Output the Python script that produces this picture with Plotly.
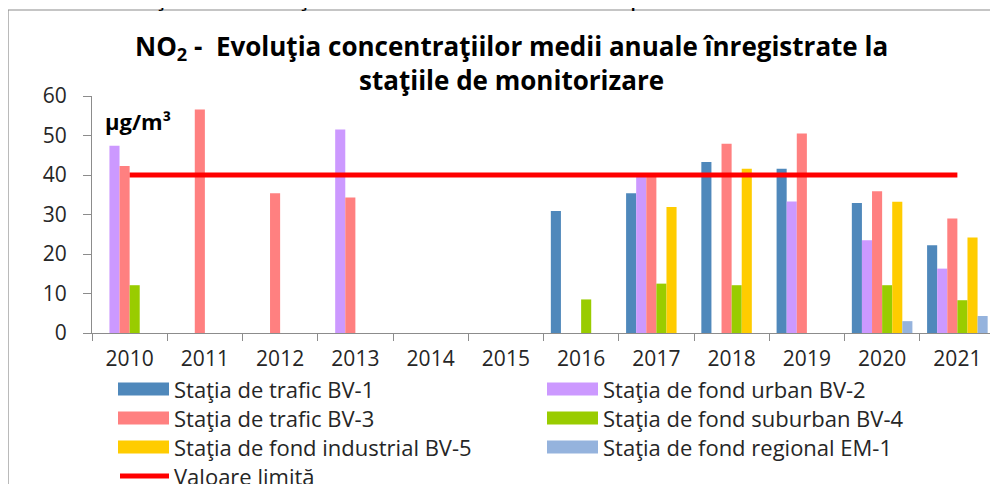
import plotly.graph_objects as go

# ---- data ----
years = ["2010", "2011", "2012", "2013", "2014", "2015",
         "2016", "2017", "2018", "2019", "2020", "2021"]
bv1 = [None, None, None, None, None, None, 30.9, 35.4, 43.3, 41.6, 32.9, 22.2]
bv2 = [47.4, None, None, 51.5, None, None, None, 39.5, None, 33.3, 23.5, 16.3]
bv3 = [42.3, 56.6, 35.4, 34.3, None, None, None, 39.8, 47.9, 50.5, 35.9, 29.0]
bv4 = [12.1, None, None, None, None, None, 8.5, 12.5, 12.1, None, 12.1, 8.3]
bv5 = [None, None, None, None, None, None, None, 31.9, 41.6, None, 33.2, 24.2]
em1 = [None, None, None, None, None, None, None, None, None, None, 3.0, 4.3]
limit = [40, 40, 40, 40, 40, 40, 40, 40, 40, 40, 40, 40]

series_names = ["Staţia de trafic BV-1", "Staţia de fond urban BV-2",
                "Staţia de trafic BV-3", "Staţia de fond suburban BV-4",
                "Staţia de fond industrial BV-5", "Staţia de fond regional EM-1"]
limit_name = "Valoare limită"
series_values = [bv1, bv2, bv3, bv4, bv5, em1]
colors = ["#4F88BB", "#CC99FF", "#FF8080", "#99CC00", "#FFCC00", "#95B3DD"]
limit_color = "#FF0000"

# ---- layout geometry (pixels; page body adds an 8px offset) ----
OFF = 8
W, H = 998 - OFF, 484 - OFF
L, R, T, B = 92 - OFF, 3, 96 - OFF, 151
PW, PH = W - L - R, H - T - B


def px(x):  # x in window pixels -> paper
    return (x - OFF - L) / PW


def py(y):  # y in window pixels -> paper
    return (H - B - (y - OFF)) / PH


FONT = "'Open Sans', Lato, sans-serif"
TXT = "#262626"

fig = go.Figure()
for name, vals, col in zip(series_names, series_values, colors):
    fig.add_trace(go.Bar(x=years, y=vals, name=name, marker_color=col,
                         marker_line_width=0, showlegend=False))
fig.add_trace(go.Scatter(x=years, y=limit, name=limit_name, mode="lines",
                         line=dict(color=limit_color, width=5), showlegend=False))

shapes = []
annotations = []

# outer frame
shapes.append(dict(type="rect", xref="paper", yref="paper",
                   x0=px(8), x1=px(1010), y0=py(500), y1=py(10),
                   line=dict(color="#8C8C8C", width=1.2), fillcolor="rgba(0,0,0,0)",
                   layer="below"))

# manual legend (two columns, row-wise)
col_x = [118, 547]
row_y = [389, 418, 447, 476]
for i, (name, col) in enumerate(zip(series_names, colors)):
    r, c = divmod(i, 2)
    x0 = col_x[c]
    yc = row_y[r]
    shapes.append(dict(type="rect", xref="paper", yref="paper",
                       x0=px(x0), x1=px(x0 + 51), y0=py(yc + 6.5), y1=py(yc - 6.5),
                       fillcolor=col, line=dict(width=0)))
    annotations.append(dict(text=name, xref="paper", yref="paper",
                            x=px(x0 + 54), y=py(yc), xanchor="left", yanchor="middle",
                            showarrow=False, font=dict(family=FONT, size=22, color=TXT)))
shapes.append(dict(type="line", xref="paper", yref="paper",
                   x0=px(120), x1=px(169), y0=py(row_y[3]), y1=py(row_y[3]),
                   line=dict(color=limit_color, width=5)))
annotations.append(dict(text=limit_name, xref="paper", yref="paper",
                        x=px(172), y=py(row_y[3]), xanchor="left", yanchor="middle",
                        showarrow=False, font=dict(family=FONT, size=22, color=TXT)))

# title
annotations.append(dict(
    text="<b>NO<sub>2</sub> -  Evoluţia concentraţiilor medii anuale înregistrate la<br>staţiile de monitorizare</b>",
    xref="paper", yref="paper", x=px(511), y=py(63), xanchor="center", yanchor="middle",
    showarrow=False, align="center", font=dict(family=FONT, size=26, color="#000000")))

# unit label
annotations.append(dict(text="<b>µg/m³</b>", xref="paper", yref="paper",
                        x=px(103), y=py(121), xanchor="left", yanchor="middle",
                        showarrow=False, font=dict(family=FONT, size=22, color="#000000")))

# caption of the page, cut off at the top edge
annotations.append(dict(
    text="Figura 4.11. Tendinţa concentraţiilor medii anuale de NO₂ în perioada 2010-2021",
    xref="paper", yref="paper", x=px(-66), y=py(14), xanchor="left", yanchor="bottom",
    showarrow=False, font=dict(family="Liberation Sans, Arial, sans-serif", size=26, color="#000000")))

fig.update_layout(
    width=W, height=H,
    margin=dict(l=L, r=R, t=T, b=B, autoexpand=False),
    paper_bgcolor="white", plot_bgcolor="white",
    barmode="group", bargap=0.195, bargroupgap=0,
    shapes=shapes, annotations=annotations,
    font=dict(family=FONT, color=TXT),
)
fig.update_xaxes(type="category", showgrid=False, showline=True, linecolor="#8C8C8C",
                 linewidth=1, ticks="outside", tickson="boundaries", ticklen=7,
                 tickcolor="#8C8C8C", tickfont=dict(family=FONT, size=21, color=TXT),
                 ticklabelstandoff=7)
fig.update_yaxes(range=[0, 60], dtick=10, showgrid=False, zeroline=False, showline=True,
                 linecolor="#8C8C8C", linewidth=1, ticks="outside", ticklen=8,
                 tickcolor="#8C8C8C", tickfont=dict(family=FONT, size=21, color=TXT),
                 ticklabelstandoff=12)

fig.write_html("out.html")
